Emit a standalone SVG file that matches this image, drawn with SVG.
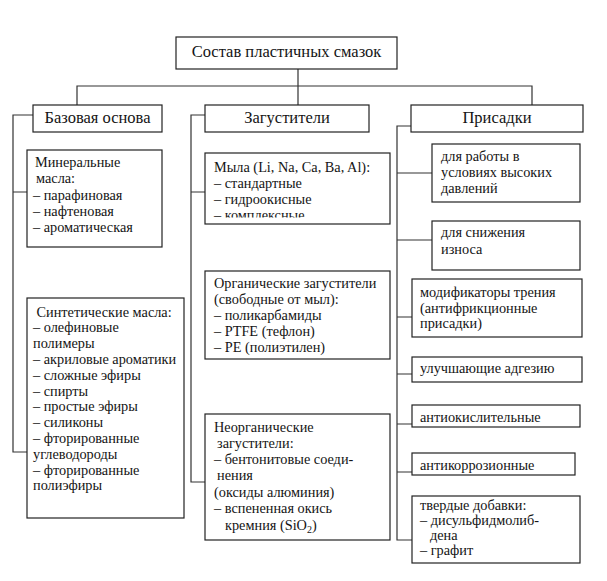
<svg xmlns="http://www.w3.org/2000/svg" width="607" height="581" viewBox="0 0 607 581" font-family="'Liberation Serif', 'DejaVu Serif', 'Noto Serif', serif">
<style>
rect.b{fill:#fff;stroke:#222;stroke-width:1.2}
#connectors path{fill:none;stroke:#333;stroke-width:1.2}
text{fill:#141414}
.h{font-size:16.5px;text-anchor:middle}
.t{font-size:14.3px}
</style>
<defs>
<clipPath id="c1"><rect x="205" y="153" width="185" height="64.5"/></clipPath>
<clipPath id="c2"><rect x="412" y="453" width="163" height="20"/></clipPath>
</defs>
<rect width="607" height="581" fill="#fff"/>
<g id="connectors">
<path d="M298 69V105M77 105V86H532V105"/>
<path d="M33 115H13V452H27M13 192H27"/>
<path d="M205 115H191V482H205M191 192H205"/>
<path d="M411 126H397V540H412M397 173H432M397 240H432M397 317H412M397 374H412M397 424H412M397 472H412"/>
</g>
<g id="title"><rect class="b" x="176" y="37" width="221" height="32"/><text class="h" x="286.5" y="57">Состав пластичных смазок</text></g>
<g id="base"><rect class="b" x="33" y="105" width="129" height="27"/><text class="h" x="97.5" y="123">Базовая основа</text></g>
<g id="thick"><rect class="b" x="205" y="105" width="164" height="27"/><text class="h" x="287" y="123">Загустители</text></g>
<g id="add"><rect class="b" x="411" y="105" width="172" height="27"/><text class="h" x="497" y="123">Присадки</text></g>
<g id="mineral"><rect class="b" x="27" y="150" width="135" height="97"/>
<text class="t"><tspan x="35" y="167">Минеральные</tspan><tspan x="36" y="183">масла:</tspan><tspan x="33" y="200">– парафиновая</tspan><tspan x="33" y="216">– нафтеновая</tspan><tspan x="33" y="232">– ароматическая</tspan></text></g>
<g id="synthetic"><rect class="b" x="27" y="298" width="157" height="220"/>
<text class="t"><tspan x="36.5" y="316.5">Синтетические масла:</tspan><tspan x="33" y="332.3">– олефиновые</tspan><tspan x="33" y="348.1">полимеры</tspan><tspan x="33" y="363.9">– акриловые ароматики</tspan><tspan x="33" y="379.7">– сложные эфиры</tspan><tspan x="33" y="395.5">– спирты</tspan><tspan x="33" y="411.3">– простые эфиры</tspan><tspan x="33" y="427.1">– силиконы</tspan><tspan x="33" y="442.9">– фторированные</tspan><tspan x="33" y="458.7">углеводороды</tspan><tspan x="33" y="474.5">– фторированные</tspan><tspan x="33" y="490.3">полиэфиры</tspan></text></g>
<g id="soaps"><rect class="b" x="205" y="153" width="185" height="71"/>
<text class="t" clip-path="url(#c1)"><tspan x="214" y="172">Мыла (Li, Na, Ca, Ba, Al):</tspan><tspan x="214" y="187.5">– стандартные</tspan><tspan x="214" y="203.5">– гидроокисные</tspan><tspan x="214" y="219.5">– комплексные</tspan></text></g>
<g id="organic"><rect class="b" x="205" y="271" width="185" height="88"/>
<text class="t"><tspan x="214" y="288">Органические загустители</tspan><tspan x="214" y="304">(свободные от мыл):</tspan><tspan x="214" y="320">– поликарбамиды</tspan><tspan x="214" y="336">– PTFE (тефлон)</tspan><tspan x="214" y="352">– PE (полиэтилен)</tspan></text></g>
<g id="inorganic"><rect class="b" x="205" y="414" width="185" height="126"/>
<text class="t"><tspan x="214" y="432">Неорганические</tspan><tspan x="217" y="448">загустители:</tspan><tspan x="214" y="464">– бентонитовые соеди-</tspan><tspan x="217" y="480">нения</tspan><tspan x="214" y="497">(оксиды алюминия)</tspan><tspan x="214" y="513">– вспененная окись</tspan><tspan x="225" y="530">кремния (SiO<tspan font-size="10" dy="3">2</tspan><tspan dy="-3">)</tspan></tspan></text></g>
<g id="pressure"><rect class="b" x="432" y="144" width="148" height="58"/>
<text class="t"><tspan x="441" y="161">для работы в</tspan><tspan x="441" y="177">условиях высоких</tspan><tspan x="441" y="193">давлений</tspan></text></g>
<g id="wear"><rect class="b" x="432" y="221" width="148" height="49"/>
<text class="t"><tspan x="441" y="237">для снижения</tspan><tspan x="441" y="254">износа</tspan></text></g>
<g id="friction"><rect class="b" x="412" y="279" width="170" height="58"/>
<text class="t"><tspan x="420" y="297">модификаторы трения</tspan><tspan x="420" y="313">(антифрикционные</tspan><tspan x="420" y="328">присадки)</tspan></text></g>
<g id="adhesion"><rect class="b" x="412" y="357" width="170" height="25"/><text class="t" x="420" y="373">улучшающие адгезию</text></g>
<g id="antiox"><rect class="b" x="412" y="405" width="168" height="22"/><text class="t" x="420" y="422">антиокислительные</text></g>
<g id="anticorr"><rect class="b" x="412" y="453" width="163" height="22"/><text class="t" x="420" y="470" clip-path="url(#c2)">антикоррозионные</text></g>
<g id="solid"><rect class="b" x="412" y="496" width="168" height="67"/>
<text class="t"><tspan x="420" y="510">твердые добавки:</tspan><tspan x="420" y="525">– дисульфидмолиб-</tspan><tspan x="430" y="540">дена</tspan><tspan x="420" y="555">– графит</tspan></text></g>
</svg>
